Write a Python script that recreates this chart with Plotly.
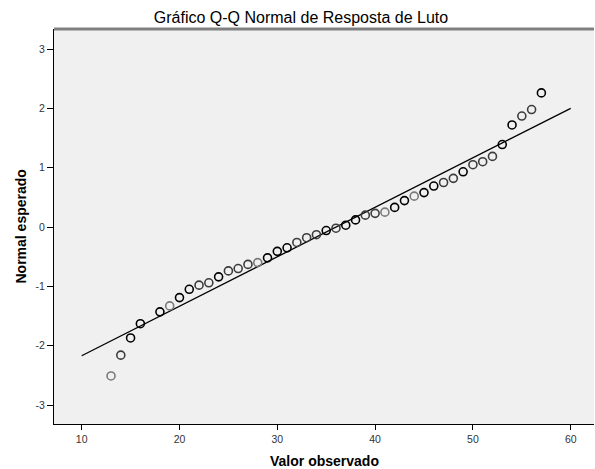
import plotly.graph_objects as go

# Observed values (Resposta de Luto) and their expected normal quantiles
observed = [13, 14, 15, 16, 18, 19, 20, 21, 22, 23, 24, 25, 26, 27, 28, 29, 30,
            31, 32, 33, 34, 35, 36, 37, 38, 39, 40, 41, 42, 43, 44, 45, 46, 47,
            48, 49, 50, 51, 52, 53, 54, 55, 56, 57]
expected = [-2.51, -2.16, -1.87, -1.63, -1.43, -1.33, -1.19, -1.05, -0.98, -0.94,
            -0.84, -0.74, -0.70, -0.63, -0.60, -0.52, -0.41, -0.35, -0.26, -0.18,
            -0.13, -0.06, -0.02, 0.03, 0.12, 0.20, 0.23, 0.25, 0.33, 0.445, 0.52,
            0.58, 0.69, 0.75, 0.82, 0.93, 1.05, 1.10, 1.19, 1.39, 1.72, 1.87,
            1.98, 2.26]
# Overlap (tie) level of each point, as seen from circle darkness
overlap = [1, 2, 3, 3, 3, 1, 3, 3, 2, 2, 3, 2, 2, 2, 1, 3, 3, 3, 2, 2, 2, 3, 2,
           3, 3, 2, 2, 1, 3, 3, 1, 3, 3, 2, 2, 3, 2, 2, 2, 3, 3, 2, 2, 3]

# Reference line endpoints
line_x = [10, 60]
line_y = [-2.17, 2.00]

x_ticks = [10, 20, 30, 40, 50, 60]
y_ticks = [-3, -2, -1, 0, 1, 2, 3]
y_tick_labels = ["-3", "-2", "-1", "0", "1", "2", "3"]

shade = {1: "#7a7a7a", 2: "#3c3c3c", 3: "#000000"}
colors = [shade[o] for o in overlap]

fig = go.Figure()
fig.add_trace(go.Scatter(
    x=line_x, y=line_y, mode="lines",
    line=dict(color="#000000", width=1.3), hoverinfo="skip", showlegend=False))
fig.add_trace(go.Scatter(
    x=observed, y=expected, mode="markers",
    marker=dict(symbol="circle-open", size=8, color=colors,
                line=dict(width=1.6, color=colors)),
    showlegend=False))

fig.update_layout(
    width=595, height=469,
    margin=dict(l=54, r=1, t=29, b=45, autoexpand=False),
    paper_bgcolor="white", plot_bgcolor="#f0f0f0",
    font=dict(family="Liberation Sans, Arial, sans-serif", color="#222"),
    title=dict(text="Gráfico Q-Q Normal de Resposta de Luto",
               x=301 / 595, xanchor="center", xref="container",
               y=1 - 17 / 469, yref="container", yanchor="middle", automargin=False,
               font=dict(size=16, color="#000")),
    xaxis=dict(range=[7.17, 62.38], tickvals=x_ticks, showgrid=False,
               zeroline=False, showline=True, linecolor="#000", linewidth=1,
               ticks="outside", ticklen=5, tickcolor="#000", automargin=False,
               tickfont=dict(size=10.5, color="#333")),
    yaxis=dict(range=[-3.32, 3.337], tickvals=y_ticks, ticktext=y_tick_labels,
               showgrid=False, automargin=False,
               zeroline=False, showline=True, linecolor="#000", linewidth=1,
               ticks="outside", ticklen=6, tickcolor="#000",
               tickfont=dict(size=10.5, color="#333")),
    shapes=[dict(type="line", xref="paper", yref="paper", x0=0, x1=1, y0=1, y1=1,
                 line=dict(color="#808080", width=3))],
    annotations=[
        dict(text="<b>Valor observado</b>", xref="paper", yref="paper",
             x=0.5, y=0, yshift=-37, xanchor="center", yanchor="middle",
             showarrow=False, font=dict(size=14, color="#000")),
        dict(text="<b>Normal esperado</b>", xref="paper", yref="paper",
             x=0, y=0.5, xshift=-34, xanchor="center", yanchor="middle",
             textangle=-90, showarrow=False, font=dict(size=14, color="#000")),
    ],
)

fig.write_html("out.html", config={"displayModeBar": False},
               post_script="document.body.style.margin='0';"
                           "document.body.style.overflow='hidden';")
